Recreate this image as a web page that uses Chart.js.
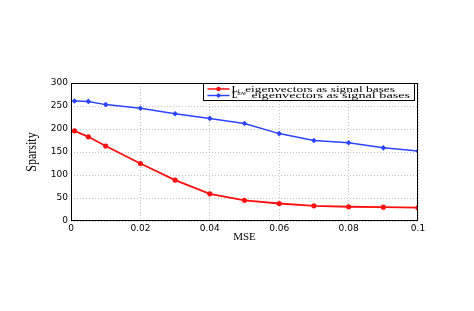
<!DOCTYPE html>
<html><head><meta charset="utf-8">
<script src="https://cdn.jsdelivr.net/npm/chart.js@4/dist/chart.umd.min.js"></script>
<style>html,body{margin:0;padding:0;background:#fff}#c{display:block}</style>
</head><body>
<canvas id="c" width="474" height="311"></canvas>
<script>
const mse = [0.001, 0.005, 0.01, 0.02, 0.03, 0.04, 0.05, 0.06, 0.07, 0.08, 0.09, 0.1];
const sparsityL1 = [196, 183, 163, 125, 89, 59, 45, 38, 33, 31, 30, 29];
const sparsityLlow = [261, 260, 253, 245, 233, 223, 212, 190, 175, 170, 159, 152];
const seriesNames = [["L", "1", "sub", " eigenvectors as signal bases"], ["L", "low", "sup", " eigenvectors as signal bases"]];
const xTitle = "MSE";
const yTitle = "Sparsity";
const RED = "#ff1010", BLUE = "#2b45ff";

const boxPlugin = {
  id: 'boxLegend',
  afterDraw(chart) {
    const ctx = chart.ctx, a = chart.chartArea;
    ctx.save();
    ctx.strokeStyle = '#000'; ctx.lineWidth = 1;
    ctx.strokeRect(a.left + 0.5, a.top + 0.5, a.right - a.left - 1, a.bottom - a.top - 1);
    // axis titles
    ctx.fillStyle = '#000';
    ctx.font = '11px "Liberation Serif", serif';
    ctx.textAlign = 'center'; ctx.textBaseline = 'middle';
    ctx.fillText(xTitle, (a.left + a.right) / 2, 237);
    ctx.save();
    ctx.translate(32, (a.top + a.bottom) / 2);
    ctx.rotate(-Math.PI / 2);
    ctx.scale(1, 1.15);
    ctx.font = '12px "Liberation Serif", serif';
    ctx.fillText(yTitle, 0, 0);
    ctx.restore();
    // legend box
    const lx = 203.5, ly = 83.5, lw = 211, lh = 17;
    ctx.fillStyle = '#fff'; ctx.fillRect(lx, ly, lw, lh);
    ctx.strokeStyle = '#000'; ctx.lineWidth = 1;
    ctx.strokeRect(lx, ly, lw, lh);
    const ds = chart.data.datasets;
    const rows = [ly + 5.5, ly + 12];
    const ends = [395, 410];
    ds.forEach((d, i) => {
      const y = rows[i];
      ctx.strokeStyle = d.borderColor; ctx.lineWidth = 1.5;
      ctx.beginPath(); ctx.moveTo(lx + 4, y); ctx.lineTo(lx + 26, y); ctx.stroke();
      ctx.fillStyle = d.borderColor;
      ctx.beginPath();
      if (i === 0) { ctx.arc(lx + 15, y, 2.2, 0, Math.PI * 2); }
      else { ctx.moveTo(lx + 15, y - 2.6); ctx.lineTo(lx + 17.6, y); ctx.lineTo(lx + 15, y + 2.6); ctx.lineTo(lx + 12.4, y); ctx.closePath(); }
      ctx.fill();
      const n = seriesNames[i];
      ctx.fillStyle = '#000'; ctx.textBaseline = 'middle'; ctx.textAlign = 'left';
      let x = 232;
      ctx.font = 'bold 8px "Liberation Serif", serif';
      ctx.fillText(n[0], x, y + 0.5); x += ctx.measureText(n[0]).width;
      ctx.font = '6px "Liberation Serif", serif';
      ctx.fillText(n[1], x, n[2] === 'sub' ? y + 2.5 : y - 2.5); x += ctx.measureText(n[1]).width + 1.5;
      ctx.font = '8px "Liberation Serif", serif';
      const w = ctx.measureText(n[3]).width;
      const sx = (ends[i] - x) / w;
      ctx.save(); ctx.translate(x, y + 0.5); ctx.scale(sx, 1); ctx.fillText(n[3], 0, 0); ctx.restore();
    });
    ctx.restore();
  }
};

new Chart(document.getElementById('c'), {
  type: 'line',
  data: {
    datasets: [
      { label: 'L1 eigenvectors as signal bases', data: mse.map((x, i) => ({x, y: sparsityL1[i]})),
        borderColor: RED, backgroundColor: RED, borderWidth: 1.8, pointStyle: 'circle', pointRadius: 2.6, pointBorderWidth: 0, tension: 0 },
      { label: 'Llow eigenvectors as signal bases', data: mse.map((x, i) => ({x, y: sparsityLlow[i]})),
        borderColor: BLUE, backgroundColor: BLUE, borderWidth: 1.5, pointStyle: 'rectRot', pointRadius: 2.8, pointBorderWidth: 0, tension: 0 }
    ]
  },
  options: {
    responsive: false, animation: false,
    layout: { padding: { left: 0, right: 56, top: 83, bottom: 0 } },
    plugins: { legend: { display: false }, tooltip: { enabled: false } },
    scales: {
      x: {
        type: 'linear', min: 0, max: 0.1,
        ticks: { stepSize: 0.02, color: '#000', font: { family: '"DejaVu Sans", sans-serif', size: 9 }, padding: 2, maxRotation: 0,
          callback: v => String(Math.round(v * 100) / 100) },
        grid: { color: '#b8b8b8', lineWidth: 0.8, drawTicks: false },
        border: { display: false, dash: [1, 2] },
        afterFit(s) { s.height = 90; }
      },
      y: {
        min: 0, max: 300,
        ticks: { stepSize: 50, color: '#000', font: { family: '"DejaVu Sans", sans-serif', size: 9 }, padding: 3 },
        grid: { color: '#b8b8b8', lineWidth: 0.8, drawTicks: false },
        border: { display: false, dash: [1, 2] },
        afterFit(s) { s.width = 71; }
      }
    }
  },
  plugins: [boxPlugin]
});
</script>
</body></html>
